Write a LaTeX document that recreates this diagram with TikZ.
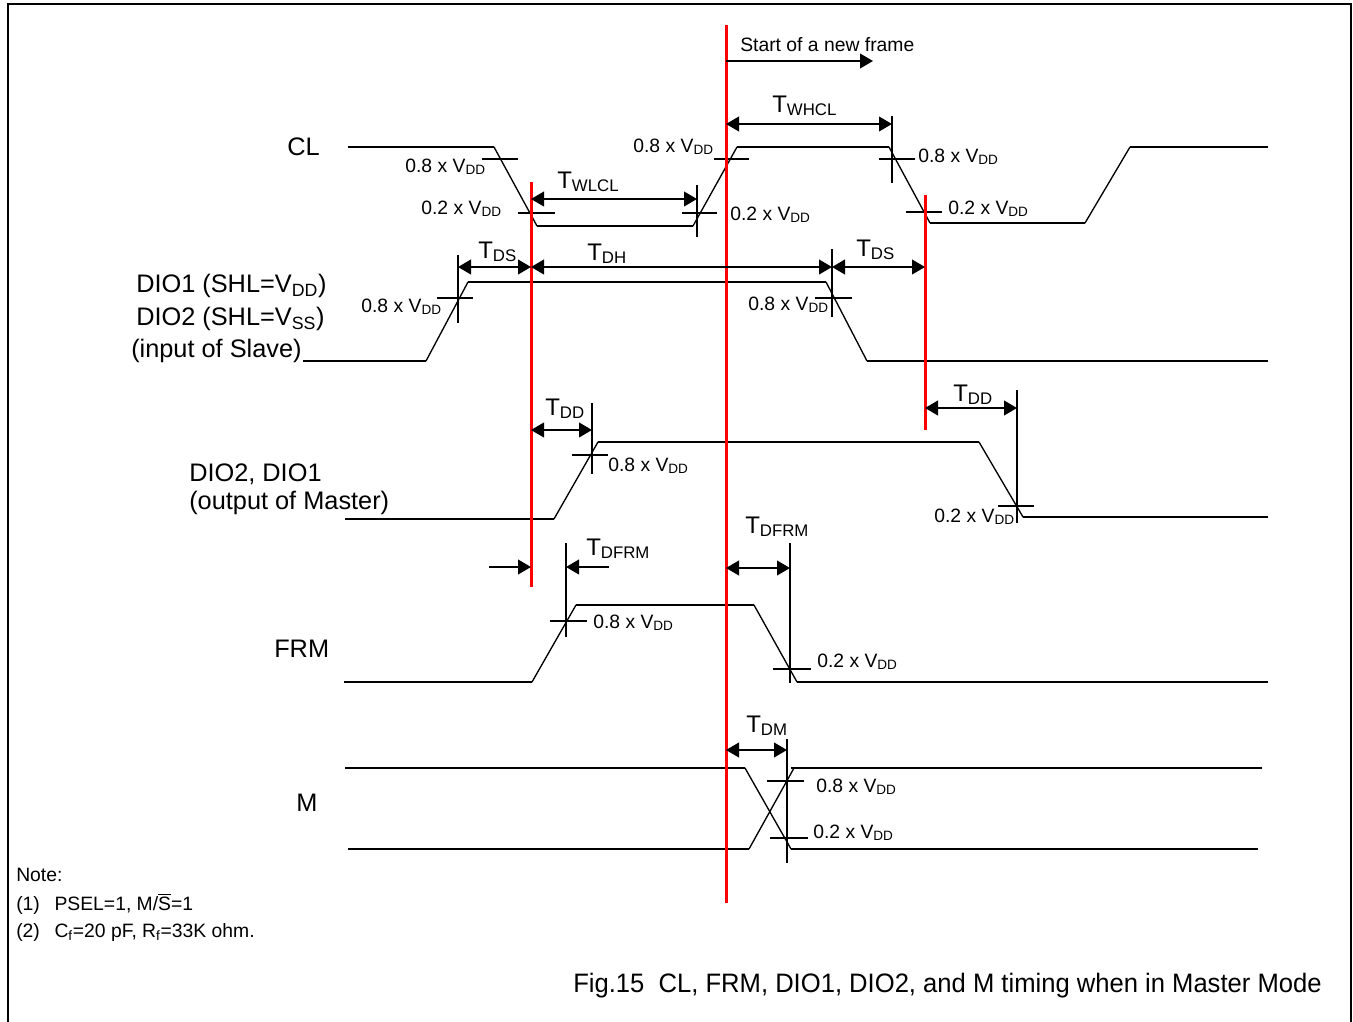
\documentclass[tikz,border=0pt]{standalone}
\usepackage{fontspec}
\setmainfont{Liberation Sans}
\usetikzlibrary{arrows.meta}
\newcommand{\lev}[1]{#1 x V\textsubscript{DD}}

\begin{document}
\begin{tikzpicture}[x=0.75pt,y=-0.75pt,
	sig/.style={line width=1.5pt},
	slope/.style={line width=1pt},
	thr/.style={line width=1.5pt},
	dimarr/.style={line width=1.5pt,{Triangle[length=9.75pt,width=11pt]}-{Triangle[length=9.75pt,width=11pt]}},
	onearr/.style={line width=1.5pt,-{Triangle[length=9.75pt,width=11pt]}},
	redline/.style={red,line width=2.25pt},
	lbl/.style={inner sep=0pt,font=\fontsize{14.5}{17}\selectfont},
	tlbl/.style={inner sep=0pt,font=\fontsize{18}{21}\selectfont},
	siglbl/.style={inner sep=0pt,font=\fontsize{19}{22}\selectfont},
	notetxt/.style={inner sep=0pt,font=\fontsize{14.5}{17}\selectfont}]
	\useasboundingbox (0,0) rectangle (1353,1021);
	\fill[white] (0,0) rectangle (1353,1021);
	\draw[line width=1.5pt] (8,1030) -- (8,4) -- (1351,4) -- (1351,1030);

	% signals
	\draw[sig] (348,147) -- (494,147) (537,226) -- (693,226) (737,147) -- (889,147) (930,223) -- (1085,223) (1130,147) -- (1268,147);
	\draw[slope] (494,147) -- (537,226) (693,226) -- (737,147) (889,147) -- (930,223) (1085,223) -- (1130,147);
	\draw[sig] (303,361) -- (426,361) (468,282) -- (826,282) (867,361) -- (1268,361);
	\draw[slope] (426,361) -- (468,282) (826,282) -- (867,361);
	\draw[sig] (345,519) -- (554,519) (598,442) -- (979,442) (1023,517) -- (1268,517);
	\draw[slope] (554,519) -- (598,442) (979,442) -- (1023,517);
	\draw[sig] (344,682) -- (532,682) (576,605) -- (754,605) (797,682) -- (1268,682);
	\draw[slope] (532,682) -- (576,605) (754,605) -- (797,682);
	\draw[sig] (345,768) -- (745,768) (791,768) -- (1262,768) (348,849) -- (749,849) (791,849) -- (1258,849);
	\draw[slope] (745,768) -- (791,849) (749,849) -- (794,768);

	% level ticks
	\draw[thr] (482,159) -- (518,159) (518,213) -- (555,213) (682,213) -- (717,213) (697,185) -- (697,237) (714,159) -- (749,159);
	\draw[thr] (879,159) -- (915,159) (892,116) -- (892,183) (906,212) -- (942,212);
	\draw[thr] (437,298) -- (473,298) (458,255) -- (458,323) (815,298) -- (852,298) (832,249) -- (832,317);
	\draw[thr] (572,455) -- (608,455) (592,403) -- (592,474) (998,506) -- (1034,506) (1017,390) -- (1017,523);
	\draw[thr] (550,621) -- (587,621) (566,543) -- (566,637) (773,669) -- (811,669) (790,543) -- (790,683);
	\draw[thr] (767,781) -- (804,781) (770,838) -- (808,838) (787,739) -- (787,863);

	% red markers
	\draw[redline] (531,182) -- (531,587);
	\draw[redline] (726,25) -- (726,903);
	\draw[redline] (925,195) -- (925,430);

	% timing arrows
	\draw[onearr] (726,61) -- (873,61);
	\draw[dimarr] (726,124) -- (892,124);
	\draw[dimarr] (531,199) -- (697,199);
	\draw[dimarr] (458,267) -- (531,267);
	\draw[dimarr] (531,267) -- (832,267);
	\draw[dimarr] (832,267) -- (925,267);
	\draw[dimarr] (531,430) -- (592,430);
	\draw[dimarr] (925,408) -- (1017,408);
	\draw[onearr] (489,567) -- (531,567);
	\draw[onearr] (609,567) -- (566,567);
	\draw[dimarr] (726,568) -- (790,568);
	\draw[dimarr] (726,750) -- (787,750);

	% level labels
	\node[lbl,anchor=base west] (start) at (740,51) {Start of a new frame};
	\node[lbl,anchor=base east] (cla) at (486,172) {\lev{0.8}};
	\node[lbl,anchor=base east] (clb) at (502,214) {\lev{0.2}};
	\node[lbl,anchor=base east] (clc) at (714,152) {\lev{0.8}};
	\node[lbl,anchor=base west] (cld) at (730,220) {\lev{0.2}};
	\node[lbl,anchor=base west] (cle) at (918,162) {\lev{0.8}};
	\node[lbl,anchor=base west] (clf) at (948,214) {\lev{0.2}};
	\node[lbl,anchor=base east] (dia) at (442,312) {\lev{0.8}};
	\node[lbl,anchor=base east] (dib) at (829,310) {\lev{0.8}};
	\node[lbl,anchor=base west] (doa) at (608,471) {\lev{0.8}};
	\node[lbl,anchor=base east] (dob) at (1015,522) {\lev{0.2}};
	\node[lbl,anchor=base west] (fra) at (593,628) {\lev{0.8}};
	\node[lbl,anchor=base west] (frb) at (817,667) {\lev{0.2}};
	\node[lbl,anchor=base west] (ma) at (816,792) {\lev{0.8}};
	\node[lbl,anchor=base west] (mb) at (813,838) {\lev{0.2}};

	% timing labels
	\node[tlbl,anchor=base west] (twhcl) at (772,112) {T\textsubscript{WHCL}};
	\node[tlbl,anchor=base west] (twlcl) at (557,188) {T\textsubscript{WLCL}};
	\node[tlbl,anchor=base west] (tdsa) at (478,258) {T\textsubscript{DS}};
	\node[tlbl,anchor=base west] (tdh) at (587,260) {T\textsubscript{DH}};
	\node[tlbl,anchor=base west] (tdsb) at (856,256) {T\textsubscript{DS}};
	\node[tlbl,anchor=base west] (tdda) at (545,415) {T\textsubscript{DD}};
	\node[tlbl,anchor=base west] (tddb) at (953,401) {T\textsubscript{DD}};
	\node[tlbl,anchor=base west] (tdfa) at (586,555) {T\textsubscript{DFRM}};
	\node[tlbl,anchor=base west] (tdfb) at (745,533) {T\textsubscript{DFRM}};
	\node[tlbl,anchor=base west] (tdm) at (746,732) {T\textsubscript{DM}};

	% signal names
	\node[siglbl,anchor=base east] (cl) at (320,155) {CL};
	\node[siglbl,anchor=base west] (dinA) at (136,292) {DIO1 (SHL=V\textsubscript{DD})};
	\node[siglbl,anchor=base west] (dinB) at (136,325) {DIO2 (SHL=V\textsubscript{SS})};
	\node[siglbl,anchor=base west] (dinC) at (131,357) {(input of Slave)};
	\node[siglbl,anchor=base west] (doutA) at (189,481) {DIO2, DIO1};
	\node[siglbl,anchor=base west] (doutB) at (189,509) {(output of Master)};
	\node[siglbl,anchor=base west] (frm) at (274,657) {FRM};
	\node[siglbl,anchor=base west] (m) at (296,811) {M};

	% notes and caption
	\node[notetxt,anchor=base west] (note) at (16,881) {Note:};
	\node[notetxt,anchor=base west] (noteA) at (16,910) {\makebox[28.7pt][l]{(1)}PSEL=1, M/$\overline{\mbox{S}}$=1};
	\node[notetxt,anchor=base west] (noteB) at (16,937) {\makebox[28.7pt][l]{(2)}C\textsubscript{f}=20 pF, R\textsubscript{f}=33K ohm.};
	\node[inner sep=0pt,anchor=base west,font=\fontsize{20}{24}\selectfont] (caption) at (573,992) {\scalebox{0.96}[1]{Fig.15\ \ CL, FRM, DIO1, DIO2, and M timing when in Master Mode}};
\end{tikzpicture}
\end{document}
